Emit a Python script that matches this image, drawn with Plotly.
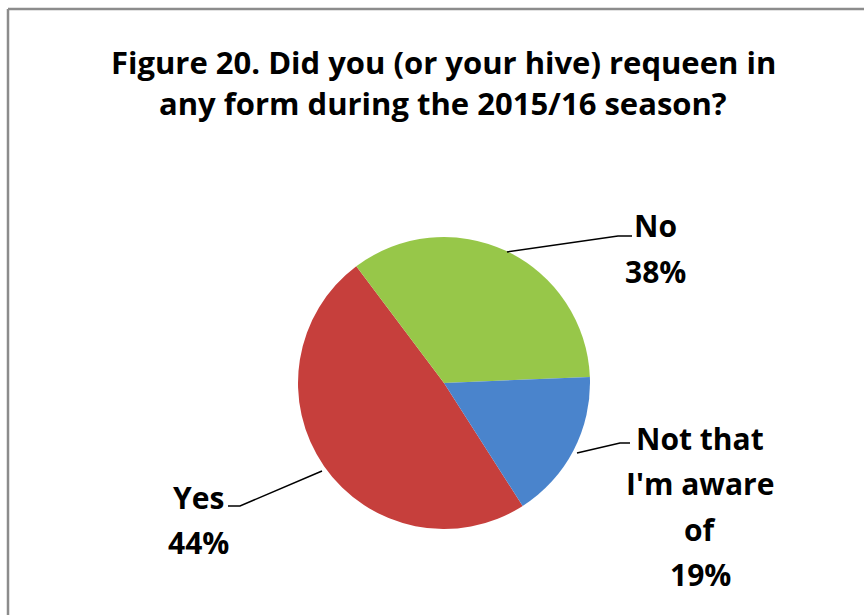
import plotly.graph_objects as go

# Data
categories = ["Yes", "No", "Not that I'm aware of"]
slice_shares = [48.8, 34.6, 16.6]          # slice sizes as drawn
pct_labels = ["44%", "38%", "19%"]          # percentages as printed on the chart
label_lines = [["Yes"], ["No"], ["Not that", "I'm aware", "of"]]
colors = ["#C63F3C", "#97C749", "#4A84CC"]

title_lines = ["Figure 20. Did you (or your hive) requeen in",
               "any form during the 2015/16 season?"]

W, H = 864, 615
FONT = "Open Sans"
FS = 30
TFS = 31

def px(x):
    return x / W

def py(y):
    return 1 - y / H

fig = go.Figure()
cx, cy, r = 444, 383, 146
fig.add_trace(go.Pie(
    labels=categories,
    values=slice_shares,
    sort=False,
    direction="clockwise",
    rotation=147.4,
    marker=dict(colors=colors, line=dict(width=0)),
    textinfo="none",
    hoverinfo="label+percent",
    showlegend=False,
    domain=dict(x=[px(cx - r), px(cx + r)], y=[py(cy + r), py(cy - r)]),
))

annotations = []
# title
for i, t in enumerate(title_lines):
    annotations.append(dict(text="<b>" + t + "</b>", x=px(443), y=py(62 + 41 * i),
                            xref="paper", yref="paper", showarrow=False,
                            xanchor="center", yanchor="middle",
                            font=dict(family=FONT, size=TFS, color="#000000")))

# data labels: (center x, first line center y)
label_pos = [(198, 497), (655, 226), (700, 438)]
for (lx, ly), lines, pct in zip(label_pos, label_lines, pct_labels):
    for j, t in enumerate(lines + [pct]):
        annotations.append(dict(text="<b>" + t + "</b>", x=px(lx), y=py(ly + 45.5 * j),
                                xref="paper", yref="paper", showarrow=False,
                                xanchor="center", yanchor="middle",
                                font=dict(family=FONT, size=FS, color="#000000")))

shapes = []
# leader lines
leaders = [
    [(228, 506), (240, 506), (322, 471)],
    [(507, 252), (618, 236), (632, 236)],
    [(577, 453), (620, 443), (630, 443)],
]
for pts in leaders:
    path = "M " + " L ".join(f"{px(x)},{py(y)}" for x, y in pts)
    shapes.append(dict(type="path", path=path, xref="paper", yref="paper",
                       line=dict(color="#000000", width=1.5)))
# chart border (top and left visible)
shapes.append(dict(type="line", xref="paper", yref="paper", x0=px(8), x1=1.01,
                   y0=py(9), y1=py(9), line=dict(color="#8C8C8C", width=2.5)))
shapes.append(dict(type="line", xref="paper", yref="paper", x0=px(8), x1=px(8),
                   y0=py(9), y1=-0.01, line=dict(color="#8C8C8C", width=2.5)))

fig.update_layout(
    width=W, height=H,
    margin=dict(l=0, r=0, t=0, b=0),
    paper_bgcolor="#FFFFFF",
    plot_bgcolor="#FFFFFF",
    annotations=annotations,
    shapes=shapes,
)

fig.write_html("out.html")
